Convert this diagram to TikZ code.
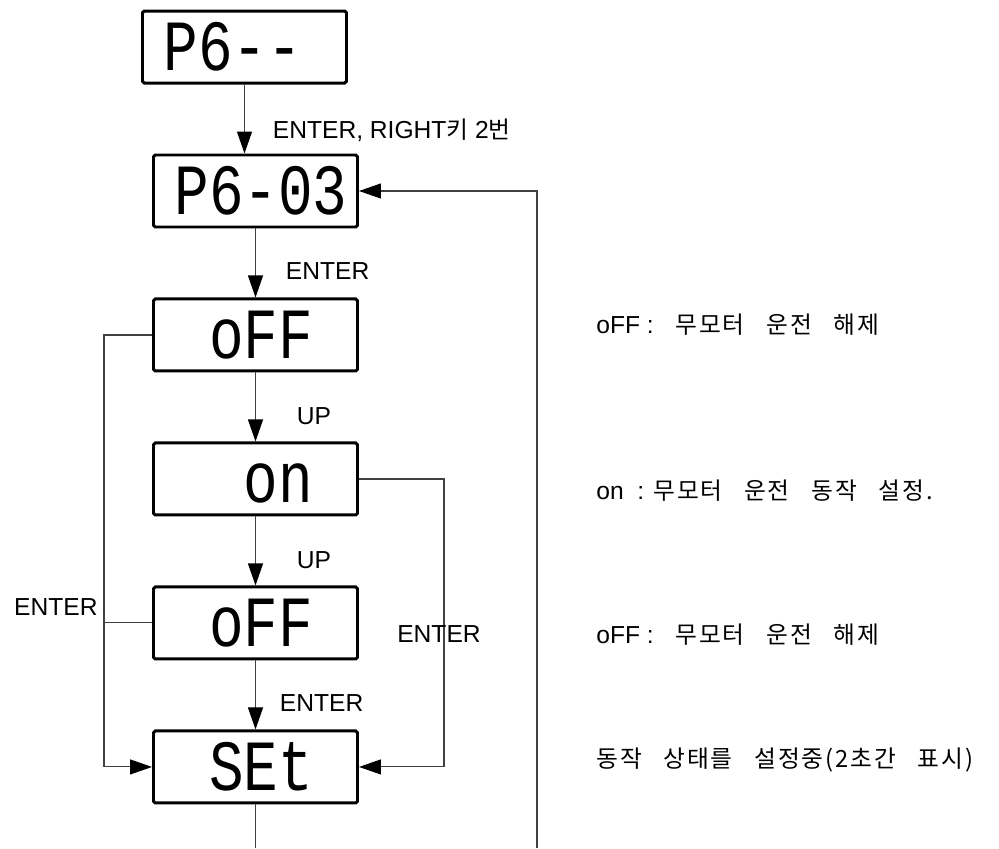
\documentclass[tikz,border=0pt]{standalone}
\usepackage{fontspec}
\setmainfont{Liberation Sans}
\newfontfamily\korfont[LetterSpace=8,WordSpace=3]{Noto Sans CJK KR}
\newfontfamily\segfont[FakeStretch=0.8]{Liberation Mono}
\usetikzlibrary{arrows.meta,positioning}
\newcommand\ko{\korfont\fontsize{13.5}{16}\selectfont}
\newcommand\blank{\phantom{0}}
\tikzstyle{disp}=[rectangle,draw,line width=1.7pt,rounded corners=1pt,inner xsep=0.2cm,text width=3.68cm,align=right,minimum height=1.44cm,font=\segfont\fontsize{41}{41}\selectfont]
\tikzstyle{lbl}=[font=\fontsize{14}{16}\selectfont]
\tikzstyle{desc}=[anchor=base west,inner sep=0pt,font=\fontsize{14}{16}\selectfont]
\tikzstyle{wire}=[draw=black!75,line width=0.6pt]
\tikzstyle{arr}=[wire,-{Triangle[length=0.44cm,width=0.3cm,color=black]}]

\begin{document}
\begin{tikzpicture}[node distance=1.38cm]
\useasboundingbox (0,0) rectangle (19.98,16.96);
% display boxes
\node[disp] (grp) at (5.11,13.14) {P6-03};
\node[disp, above=of grp, xshift=-0.22cm] (top) {P6-{}-\blank};
\node[disp, below=of grp] (off1) {oFF\blank};
\node[disp, below=of off1] (on) {on\blank};
\node[disp, below=of on] (off2) {oFF\blank};
\node[disp, below=of off2] (set) {SEt\blank};
% main column
\draw[arr] (top) -- node[lbl, pos=0.66, right=0.44cm] {ENTER, RIGHT{\ko 키} 2{\ko 번}} (top |- grp.north);
\draw[arr] (grp) -- node[lbl, pos=0.61, right=0.48cm] {ENTER} (off1);
\draw[arr] (off1) -- node[lbl, pos=0.64, right=0.70cm] {UP} (on);
\draw[arr] (on) -- node[lbl, pos=0.64, right=0.70cm] {UP} (off2);
\draw[arr] (off2) -- node[lbl, pos=0.62, right=0.36cm] {ENTER} (set);
% side loops
\draw[arr] (off1.west) -- ++(-0.96,0) coordinate (lc)
  -- node[lbl, pos=0.63, left=0cm] {ENTER} (lc |- set.west) -- (set.west);
\draw[wire] (off2.west) -- (off2.west -| lc);
\draw[arr] (on.east) -- ++(1.70,0) coordinate (rc)
  -- node[lbl, pos=0.54, xshift=-0.1cm] {ENTER} (rc |- set.east) -- (set.east);
% return line, cut at the bottom edge
\coordinate (ret) at (10.74,0);
\draw[wire] (set.south) -- (set.south |- ret);
\draw[arr] (ret) -- (ret |- grp.east) -- (grp.east);
% notes
\node[desc] (n1) at (11.92,10.30) {oFF :{\ko{} 무모터 운전 해제}};
\node[desc] (n2) at (11.92,6.98) {on~~: {\ko 무모터 운전 동작 설정.}};
\node[desc] (n3) at (11.92,4.10) {oFF :{\ko{} 무모터 운전 해제}};
\node[desc] (n4) at (11.92,1.62) {{\ko 동작 상태를 설정중(2초간 표시)}};
\end{tikzpicture}
\end{document}
